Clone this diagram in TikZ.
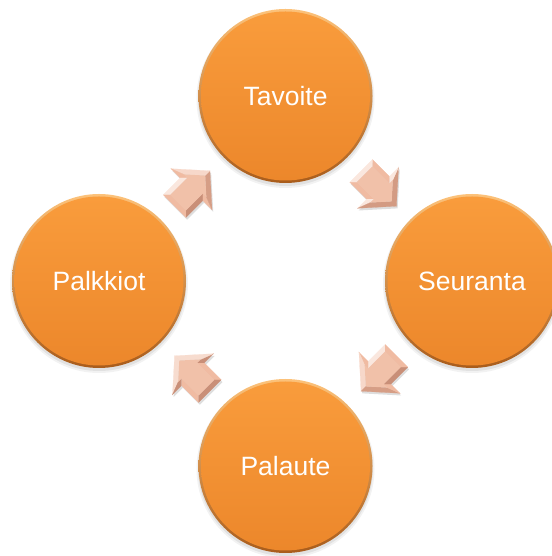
\documentclass[tikz,border=0pt]{standalone}
\usepackage{fontspec}
\setmainfont{Liberation Sans}
\usetikzlibrary{calc,backgrounds}
\definecolor{orgtop}{HTML}{F99C3C}
\definecolor{orgbot}{HTML}{EC872B}
\definecolor{rimtop}{HTML}{FCC27A}
\definecolor{rimbot}{HTML}{A95C1B}
\definecolor{arrbase}{HTML}{F0BBA2}
\definecolor{arrdark}{HTML}{9A5A44}
\tikzset{
  stepnode/.style={circle, minimum size=169pt, inner sep=0pt,
    font=\fontsize{26.5}{30}\selectfont, text=white,
    top color=orgtop, bottom color=orgbot},
}
\newcommand\arrowouter{(-25,-16) -- (-1,-16) -- (-1,-29) -- (25,0) -- (-1,29) -- (-1,16) -- (-25,16) -- cycle}
\newcommand\bevarrow[3]{%
  \begin{scope}[shift={($(#1)!0.5!(#2)$)}, shift={(1.2,-2.2)}, rotate=#3]
    \fill[black, opacity=0.13] \arrowouter;
  \end{scope}
  \begin{scope}[shift={($(#1)!0.5!(#2)$)}, rotate=#3]
    \coordinate (o1) at (-25,-16); \coordinate (o2) at (-1,-16);
    \coordinate (o3) at (-1,-29);  \coordinate (o4) at (25,0);
    \coordinate (o5) at (-1,29);   \coordinate (o6) at (-1,16);
    \coordinate (o7) at (-25,16);
    \coordinate (i1) at (-20,-11); \coordinate (i2) at (4,-11);
    \coordinate (i3) at (4,-15.9); \coordinate (i4) at (18.3,0);
    \coordinate (i5) at (4,15.9);  \coordinate (i6) at (4,11);
    \coordinate (i7) at (-20,11);
    \foreach \k/\kk/\nrm in {1/2/-90, 2/3/180, 3/4/-41.9, 4/5/41.9, 5/6/180, 6/7/90, 7/1/180}{
      \pgfmathsetmacro\bri{cos(\nrm+#3-135)}
      \ifdim \bri pt < 0pt
        \pgfmathsetmacro\pc{100+45*\bri}
        \colorlet{facetc}{arrbase!\pc!arrdark}
      \else
        \pgfmathsetmacro\pc{100-65*\bri}
        \colorlet{facetc}{arrbase!\pc!white}
      \fi
      \fill[facetc, draw=facetc, line width=0.2pt] (o\k) -- (o\kk) -- (i\kk) -- (i\k) -- cycle;
    }
    \fill[arrbase!92!white] (i1) -- (i2) -- (i3) -- (i4) -- (i5) -- (i6) -- (i7) -- cycle;
  \end{scope}
}
\begin{document}
\begin{tikzpicture}[x=1pt, y=1pt]
\useasboundingbox (0,0) rectangle (551,556);
\node[stepnode] (tav) at (285.5,460) {Tavoite};
\node[stepnode] (seu) at (472,275) {Seuranta};
\node[stepnode] (pal) at (285.5,90) {Palaute};
\node[stepnode] (palk) at (99,275) {Palkkiot};
\begin{pgfonlayer}{background}
  \foreach \n in {tav,seu,pal,palk}{
    \fill[black, opacity=0.05] ($(\n.center)+(0,-3)$) circle (89);
    \fill[black, opacity=0.07] ($(\n.center)+(0,-2.5)$) circle (87.5);
    \shade[top color=rimtop, bottom color=rimbot] (\n.center) circle (87);
  }
\end{pgfonlayer}
\bevarrow{palk}{tav}{45}
\bevarrow{tav}{seu}{-45}
\bevarrow{seu}{pal}{-135}
\bevarrow{pal}{palk}{135}
\end{tikzpicture}
\end{document}
